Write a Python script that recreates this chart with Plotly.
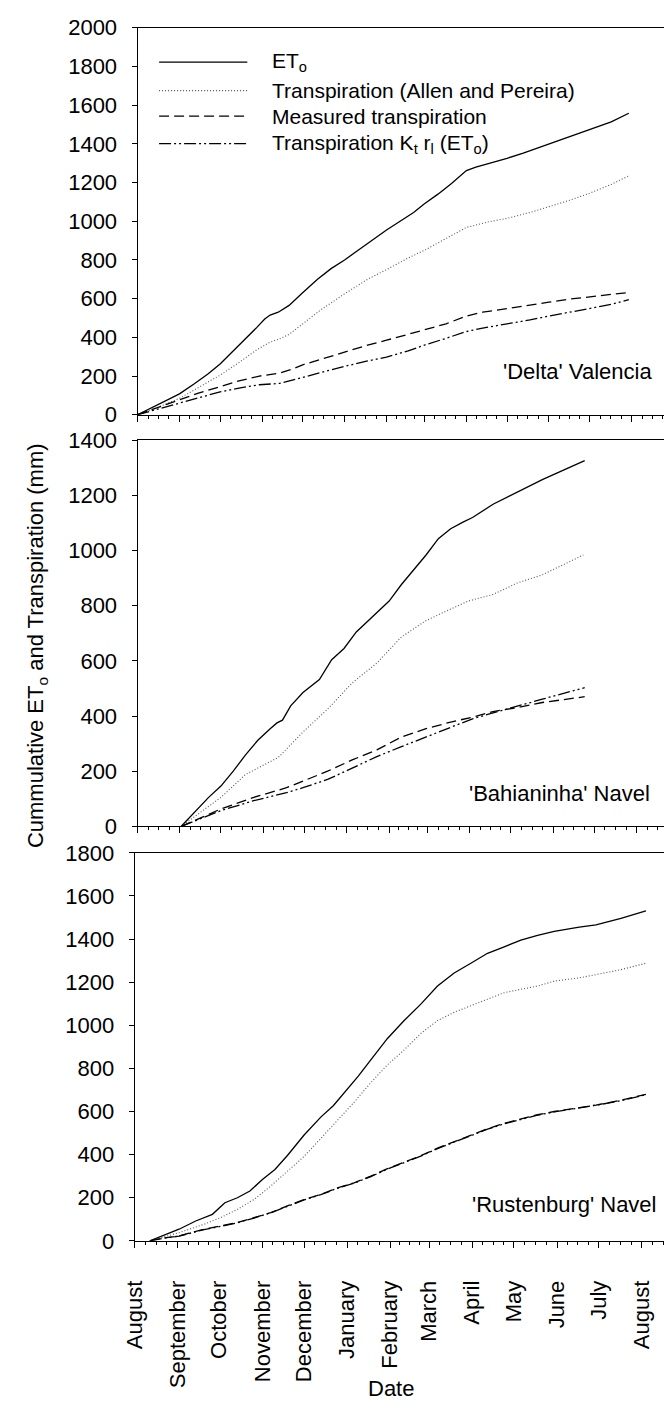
import plotly.graph_objects as go

W, H = 664, 1412
FONT = "Liberation Sans, Arial, sans-serif"

# ---------------- data (x = days since 1 August) ----------------
months = ["August", "September", "October", "November", "December", "January",
          "February", "March", "April", "May", "June", "July", "August"]
month_days = [0, 31, 61, 92, 122, 153, 184, 212, 243, 273, 304, 334, 365]

# Panel 1 : 'Delta' Valencia
p1_et0_d = [0, 10, 20, 31, 42, 52, 61, 70, 80, 88, 94, 98, 104, 112, 122, 133, 143, 153, 163, 173,
            184, 194, 204, 212, 222, 232, 243, 250, 260, 273, 285, 304, 320, 334, 350, 363]
p1_et0_v = [0, 35, 70, 108, 160, 210, 262, 325, 390, 450, 495, 515, 530, 565, 630, 700, 755, 800, 850, 900,
            955, 1000, 1045, 1090, 1140, 1195, 1262, 1280, 1298, 1325, 1352, 1398, 1438, 1473, 1513, 1558]
p1_all_d = [0, 15, 31, 45, 61, 75, 88, 98, 105, 112, 122, 135, 153, 170, 184, 200, 212, 228, 243,
            258, 273, 290, 304, 320, 334, 350, 363]
p1_all_v = [0, 38, 85, 140, 204, 270, 335, 375, 392, 415, 470, 540, 625, 700, 750, 810, 850, 910, 968,
            995, 1015, 1045, 1075, 1110, 1145, 1190, 1235]
p1_mea_d = [0, 15, 31, 45, 61, 75, 90, 98, 105, 115, 122, 135, 153, 170, 184, 200, 212, 228, 243,
            255, 273, 290, 304, 320, 334, 350, 363]
p1_mea_v = [0, 38, 80, 112, 145, 175, 200, 207, 215, 238, 258, 285, 325, 360, 385, 415, 438, 470, 510,
            530, 548, 568, 582, 598, 608, 620, 632]
p1_kt_d = [0, 15, 31, 45, 61, 75, 90, 105, 112, 122, 135, 153, 170, 184, 200, 212, 228, 243,
           255, 273, 290, 304, 320, 334, 350, 363]
p1_kt_v = [0, 30, 62, 90, 118, 138, 155, 162, 175, 195, 218, 250, 278, 298, 330, 360, 395, 430,
           448, 468, 490, 510, 530, 550, 570, 595]

# Panel 2 : 'Bahianinha' Navel
p2_et0_d = [32, 43, 52, 61, 70, 79, 88, 97, 102, 106, 112, 121, 133, 142, 151, 160, 169, 178, 184,
            193, 202, 211, 220, 229, 238, 245, 260, 272, 281, 296, 327]
p2_et0_v = [0, 57, 105, 146, 200, 259, 312, 354, 375, 385, 437, 485, 532, 604, 645, 705, 746, 788, 817,
            877, 930, 984, 1043, 1079, 1103, 1120, 1168, 1198, 1222, 1257, 1326]
p2_all_d = [32, 61, 79, 103, 121, 139, 157, 175, 193, 211, 229, 242, 260, 278, 296, 326]
p2_all_v = [0, 105, 188, 250, 342, 425, 520, 592, 687, 746, 788, 817, 841, 883, 912, 984]
p2_mea_d = [32, 61, 85, 109, 121, 139, 157, 175, 193, 211, 229, 245, 260, 278, 296, 327]
p2_mea_v = [0, 63, 105, 140, 164, 200, 241, 277, 324, 354, 378, 396, 416, 431, 449, 470]
p2_kt_d = [32, 61, 85, 109, 121, 139, 157, 175, 193, 211, 229, 245, 260, 278, 296, 327]
p2_kt_v = [0, 57, 93, 122, 140, 170, 211, 253, 289, 324, 360, 390, 411, 437, 461, 503]

# Panel 3 : 'Rustenburg' Navel
p3_et0_d = [11, 20, 32, 44, 56, 65, 74, 83, 92, 101, 110, 122, 134, 143, 152, 161, 170, 182, 194,
            206, 218, 230, 242, 254, 266, 278, 290, 302, 320, 332, 350, 368]
p3_et0_v = [0, 23, 54, 92, 123, 177, 200, 231, 285, 331, 396, 491, 574, 627, 696, 764, 840, 939, 1022,
            1098, 1182, 1243, 1288, 1334, 1364, 1395, 1417, 1436, 1455, 1466, 1496, 1531]
p3_d = [11, 20, 32, 50, 62, 74, 86, 98, 110, 122, 134, 146, 158, 170, 182, 194, 206, 218, 230,
        242, 254, 266, 278, 290, 302, 320, 332, 350, 368]
p3_all_v = [0, 15, 38, 77, 108, 146, 192, 254, 323, 392, 475, 559, 643, 734, 817, 886, 962, 1022, 1060,
            1091, 1121, 1151, 1167, 1182, 1205, 1220, 1235, 1258, 1288]
p3_mea_v = [0, 12, 23, 54, 69, 85, 108, 131, 162, 192, 215, 246, 269, 300, 335, 365, 395, 430, 460,
            490, 520, 545, 565, 585, 600, 618, 630, 652, 680]
p3_kt_v = [0, 11, 22, 52, 67, 84, 106, 130, 160, 190, 214, 244, 268, 298, 333, 362, 393, 428, 458,
           488, 518, 543, 563, 583, 598, 616, 629, 650, 678]

series_names = ["ET<sub>o</sub>", "Transpiration (Allen and Pereira)",
                "Measured transpiration", "Transpiration K<sub>t</sub> r<sub>l</sub> (ET<sub>o</sub>)"]
panel_labels = ["'Delta' Valencia", "'Bahianinha' Navel", "'Rustenburg' Navel"]
y_max = [2000, 1400, 1800]

# ---------------- styles ----------------
STY = [
    dict(color="black", width=1.3, dash="solid"),
    dict(color="#555555", width=1.1, dash="1px,2px"),
    dict(color="black", width=1.3, dash="10px,5px"),
    dict(color="black", width=1.3, dash="12px,3px,2px,3px,2px,3px"),
]

def px2x(px):
    return px / W

def px2y(py):
    return 1 - py / H

panels = [
    dict(series=[(p1_et0_d, p1_et0_v), (p1_all_d, p1_all_v), (p1_mea_d, p1_mea_v), (p1_kt_d, p1_kt_v)],
         top=16, bot=410, left=127, xr=389),
    dict(series=[(p2_et0_d, p2_et0_v), (p2_all_d, p2_all_v), (p2_mea_d, p2_mea_v), (p2_kt_d, p2_kt_v)],
         top=436, bot=829, left=127, xr=385),
    dict(series=[(p3_et0_d, p3_et0_v), (p3_d, p3_all_v), (p3_d, p3_mea_v), (p3_d, p3_kt_v)],
         top=856, bot=1251, left=124, xr=381),
]

fig = go.Figure()

# minor tick positions: quarter months
minor_vals = []
for a, b in zip(month_days[:-1], month_days[1:]):
    for k in (1, 2, 3):
        minor_vals.append(a + (b - a) * k / 4)
minor_vals += [365 + 31 * k / 4 for k in (1, 2, 3)]

layout = {}
for i, p in enumerate(panels):
    n = "" if i == 0 else str(i + 1)
    xa, ya = "x" + n, "y" + n
    for (d, v), s in zip(p["series"], STY):
        fig.add_trace(go.Scatter(x=d, y=v, mode="lines", line=s, xaxis=xa, yaxis=ya,
                                 showlegend=False, hoverinfo="skip"))
    last = (i == 2)
    layout["xaxis" + n] = dict(
        domain=[px2x(p["left"]), 1], range=[0, p["xr"]], anchor=ya,
        tickvals=month_days, ticktext=months, showticklabels=last,
        tickangle=-90, tickfont=dict(size=22, family=FONT, color="black"),
        ticks="outside", ticklen=6, tickwidth=1, tickcolor="black",
        minor=dict(tickvals=minor_vals, ticks="outside", ticklen=3, tickwidth=1, tickcolor="black"),
        showline=True, linecolor="black", linewidth=1, mirror=True,
        showgrid=False, zeroline=False, ticklabelstandoff=24,
    )
    layout["yaxis" + n] = dict(
        domain=[px2y(p["bot"]), px2y(p["top"])], range=[0, y_max[i]], anchor=xa,
        dtick=200, tick0=0, ticks="outside", ticklen=5, tickwidth=1, tickcolor="black",
        tickfont=dict(size=22, family=FONT, color="black"),
        showline=True, linecolor="black", linewidth=1,
        showgrid=False, zeroline=False, ticklabelstandoff=10,
    )

annotations = []
shapes = []
# panel labels
label_pos = [(654, 366), (652, 796), (659, 1214)]
for txt, (x, y) in zip(panel_labels, label_pos):
    annotations.append(dict(text=txt, x=px2x(x), y=px2y(y), xref="paper", yref="paper",
                            xanchor="right", yanchor="middle", showarrow=False,
                            font=dict(size=22, family=FONT, color="black")))

# legend (drawn manually)
leg_rows = [51, 80, 106, 134]
for name, s, ry in zip(series_names, STY, leg_rows):
    shapes.append(dict(type="line", xref="paper", yref="paper",
                       x0=px2x(149), x1=px2x(239), y0=px2y(ry), y1=px2y(ry),
                       line=dict(color=s["color"], width=s["width"], dash=s["dash"])))
    annotations.append(dict(text=name, x=px2x(262), y=px2y(ry), xref="paper", yref="paper",
                            xanchor="left", yanchor="middle", showarrow=False,
                            font=dict(size=21, family=FONT, color="black")))

# axis titles
annotations.append(dict(text="Cummulative ET<sub>o</sub> and Transpiration (mm)",
                        x=px2x(24), y=px2y(645), xref="paper", yref="paper", textangle=-90,
                        xanchor="center", yanchor="middle", showarrow=False,
                        font=dict(size=22, family=FONT, color="black")))
annotations.append(dict(text="Date", x=px2x(386), y=px2y(1401), xref="paper", yref="paper",
                        xanchor="center", yanchor="middle", showarrow=False,
                        font=dict(size=22, family=FONT, color="black")))

fig.update_layout(
    width=W, height=H, margin=dict(l=0, r=0, t=0, b=0),
    paper_bgcolor="white", plot_bgcolor="white",
    font=dict(family=FONT, color="black"),
    showlegend=False, annotations=annotations, shapes=shapes, **layout,
)

fig.write_html("out.html")
